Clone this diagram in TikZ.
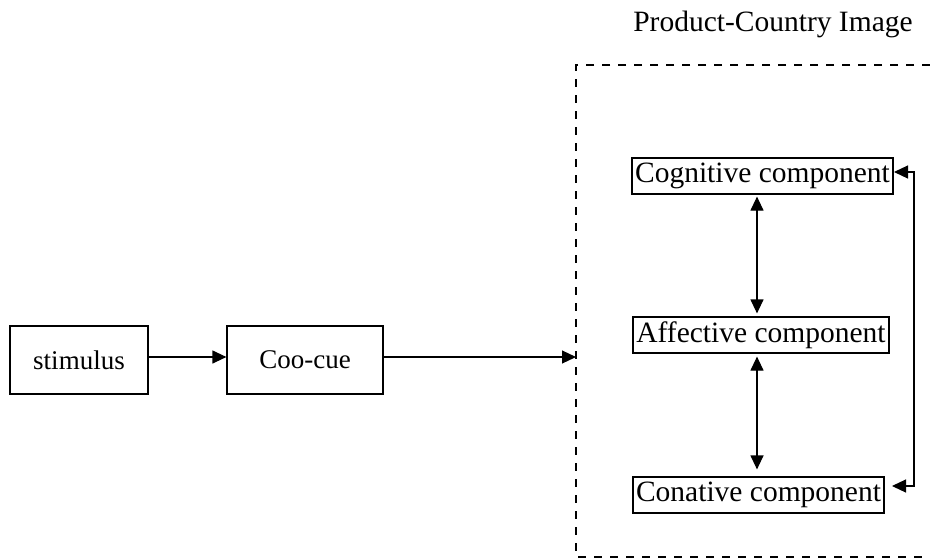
\documentclass[tikz,border=0pt]{standalone}
\usepackage{fontspec}
\setmainfont{Liberation Serif}
\usetikzlibrary{arrows.meta}
\begin{document}
\begin{tikzpicture}[x=1pt,y=-1pt,
  every node/.style={font=\fontsize{29.5}{34}\selectfont},
  small/.style={font=\fontsize{27}{32}\selectfont},
  box/.style={draw,line width=1.2pt,inner sep=1pt,minimum height=#1},
  box/.default=36pt,
  conn/.style={line width=1.2pt,-{Triangle[length=14pt,width=13pt]}},
  biconn/.style={line width=1.2pt,{Triangle[length=14pt,width=13pt]}-{Triangle[length=14pt,width=13pt]}},
  frame/.style={line width=1.2pt,dash pattern=on 8pt off 8pt}]
\useasboundingbox (0,0) rectangle (930,560);

% outer dashed frame of the product-country image
\draw[frame] (930,65) -- (576,65) -- (576,557) -- (930,557);
\node (title) at (773,24) {Product-Country Image};

% input chain
\node[box=68pt,minimum width=138pt,small] (stim) at (79,360) {stimulus};
\node[box=68pt,minimum width=156pt,small] (coo) at (305,360) {Coo-cue};
\coordinate (entry) at (576,357);

% attitude components
\node[box,minimum width=261pt] (cog) at (762.5,176) {Cognitive component};
\node[box,minimum width=256pt] (aff) at (761,335) {Affective component};
\node[box,minimum width=251pt] (con) at (758.5,495) {Conative component};

% helper coordinates
\coordinate (axis) at (757,0);
\coordinate (rtop) at (914,172);
\coordinate (rbot) at (914,486);
\coordinate (cogin) at (894,172);
\coordinate (conin) at (892,486);

% connectors
\draw[conn] ([yshift=3pt]stim.east) -- ([yshift=3pt]coo.west);
\draw[conn] ([yshift=3pt]coo.east) -- (entry);
\draw[biconn] ([yshift=-2pt]cog.south -| axis) -- ([yshift=3pt]aff.north -| axis);
\draw[biconn] ([yshift=-3pt]aff.south -| axis) -- ([yshift=7pt]con.north -| axis);
\draw[biconn] (cogin) -- (rtop) -- (rbot) -- (conin);
\end{tikzpicture}
\end{document}
